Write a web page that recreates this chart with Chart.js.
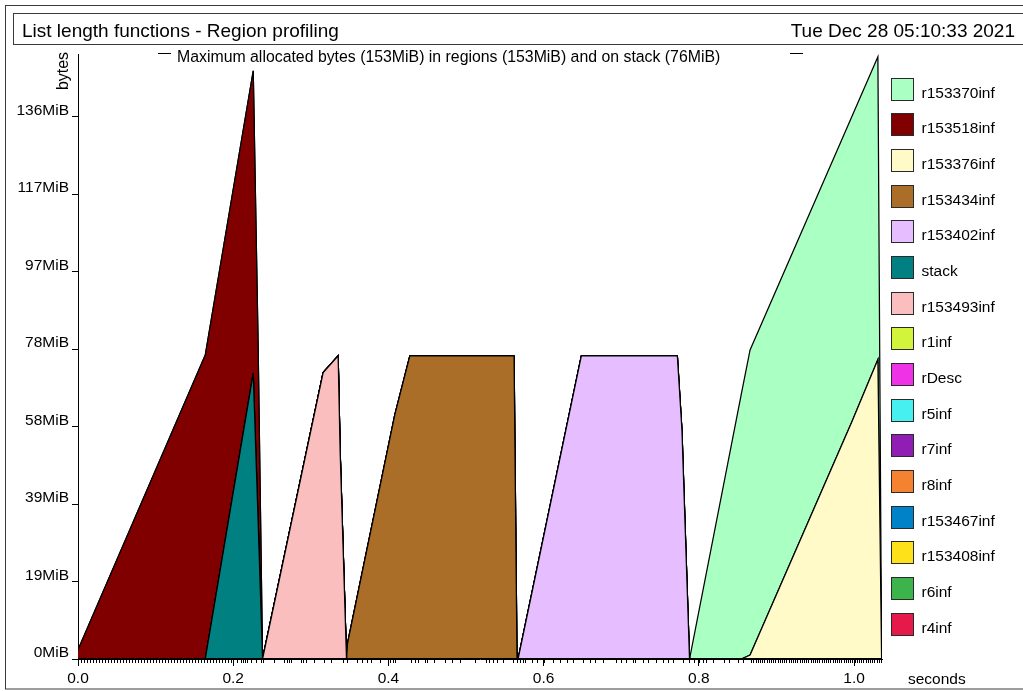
<!DOCTYPE html>
<html>
<head>
<meta charset="utf-8">
<title>List length functions - Region profiling</title>
<script src="https://cdn.jsdelivr.net/npm/chart.js@4/dist/chart.umd.min.js"></script>
<style>
  html, body { margin: 0; padding: 0; background: #fff; overflow: hidden; }
  canvas { display: block; }
</style>
</head>
<body>
<canvas id="profile" width="1023" height="691"></canvas>
<script>
// ---- profile data -------------------------------------------------------
// Sample times (seconds) at which region sizes are given
const seconds = [0.0000, 0.1640, 0.2258, 0.2320, 0.2378, 0.3159, 0.3352, 0.3378,
                 0.3460, 0.3473, 0.4082, 0.4276, 0.5619, 0.5657, 0.5671, 0.6486,
                 0.7723, 0.7782, 0.7880, 0.8547, 0.8660, 0.9972, 1.0307, 1.0355];

// Allocated MiB per region at each sample time
const r153370inf = [0, 0, 0, 0, 0, 0, 0, 0, 0, 0, 0, 0, 0, 0, 0, 0, 0, 0, 0, 66.4, 76.5, 76.5, 75.9, 0];
const r153518inf = [2.3, 76.2, 75.9, 44.8, 0, 0, 0, 0, 0, 0, 0, 0, 0, 0, 0, 0, 0, 0, 0, 0, 0, 0, 0, 0];
const r153376inf = [0, 0, 0, 0, 0, 0, 0, 0, 0, 0, 0, 0, 0, 0, 0, 0, 0, 0, 0, 0, 1.0, 59.5, 75.1, 0];
const r153434inf = [0, 0, 0, 0, 0, 0, 0, 0, 0, 3.9, 61.2, 76.0, 76.0, 0, 0, 0, 0, 0, 0, 0, 0, 0, 0, 0];
const r153402inf = [0, 0, 0, 0, 0, 0, 0, 0, 0, 0, 0, 0, 0, 0, 0, 76.0, 76.0, 57.4, 0, 0, 0, 0, 0, 0];
const stack      = [0, 0, 71.6, 35.2, 0, 0, 0, 0, 0, 0, 0, 0, 0, 0, 0, 0, 0, 0, 0, 0, 0, 0, 0, 0];
const r153493inf = [0, 0, 0, 0, 0, 71.8, 76.0, 52.0, 0, 0, 0, 0, 0, 0, 0, 0, 0, 0, 0, 0, 0, 0, 0, 0];
const r1inf      = [0, 0, 0, 0, 0, 0, 0, 0, 0, 0, 0, 0, 0, 0, 0, 0, 0, 0, 0, 0, 0, 0, 0, 0];
const rDesc      = [0, 0, 0, 0, 0, 0, 0, 0, 0, 0, 0, 0, 0, 0, 0, 0, 0, 0, 0, 0, 0, 0, 0, 0];
const r5inf      = [0, 0, 0, 0, 0, 0, 0, 0, 0, 0, 0, 0, 0, 0, 0, 0, 0, 0, 0, 0, 0, 0, 0, 0];
const r7inf      = [0, 0, 0, 0, 0, 0, 0, 0, 0, 0, 0, 0, 0, 0, 0, 0, 0, 0, 0, 0, 0, 0, 0, 0];
const r8inf      = [0, 0, 0, 0, 0, 0, 0, 0, 0, 0, 0, 0, 0, 0, 0, 0, 0, 0, 0, 0, 0, 0, 0, 0];
const r153467inf = [0, 0, 0, 0, 0, 0, 0, 0, 0, 0, 0, 0, 0, 0, 0, 0, 0, 0, 0, 0, 0, 0, 0, 0];
const r153408inf = [0, 0, 0, 0, 0, 0, 0, 0, 0, 0, 0, 0, 0, 0, 0, 0, 0, 0, 0, 0, 0, 0, 0, 0];
const r6inf      = [0, 0, 0, 0, 0, 0, 0, 0, 0, 0, 0, 0, 0, 0, 0, 0, 0, 0, 0, 0, 0, 0, 0, 0];
const r4inf      = [0, 0, 0, 0, 0, 0, 0, 0, 0, 0, 0, 0, 0, 0, 0, 0, 0, 0, 0, 0, 0, 0, 0, 0];

// Legend order (top of the stack first)
const regionNames = ['r153370inf', 'r153518inf', 'r153376inf', 'r153434inf', 'r153402inf',
                     'stack', 'r153493inf', 'r1inf', 'rDesc', 'r5inf', 'r7inf', 'r8inf',
                     'r153467inf', 'r153408inf', 'r6inf', 'r4inf'];
const regionColors = ['#aaffc3', '#800000', '#fffac8', '#aa6e28', '#e6beff',
                      '#008080', '#fabebe', '#d2f53c', '#f032e6', '#46f0f0', '#911eb4', '#f58231',
                      '#0082c8', '#ffe119', '#3cb44b', '#e6194b'];
const regionSeries = { r153370inf, r153518inf, r153376inf, r153434inf, r153402inf, stack,
                       r153493inf, r1inf, rDesc, r5inf, r7inf, r8inf, r153467inf, r153408inf,
                       r6inf, r4inf };

// Sample instants marked along the time axis
const sampleTimes = [
  0.0000, 0.0039, 0.0077, 0.0116, 0.0155, 0.0193, 0.0232, 0.0271, 0.0309, 0.0348,
  0.0387, 0.0425, 0.0464, 0.0503, 0.0541, 0.0580, 0.0619, 0.0657, 0.0696, 0.0735,
  0.0773, 0.0812, 0.0851, 0.0889, 0.0928, 0.0966, 0.1005, 0.1044, 0.1082, 0.1121,
  0.1160, 0.1198, 0.1237, 0.1276, 0.1314, 0.1353, 0.1392, 0.1430, 0.1469, 0.1508,
  0.1546, 0.1585, 0.1624, 0.1662, 0.1701, 0.1740, 0.1778, 0.1817, 0.1856, 0.1894,
  0.1933, 0.1968, 0.2001, 0.2053, 0.2097, 0.2122, 0.2148, 0.2182, 0.2225, 0.2290,
  0.2354, 0.2388, 0.2526, 0.2655, 0.2689, 0.2719, 0.2741, 0.2870, 0.2903, 0.2934,
  0.3041, 0.3170, 0.3256, 0.3419, 0.3470, 0.3591, 0.3656, 0.3720, 0.3772, 0.3892,
  0.3999, 0.4021, 0.4063, 0.4085, 0.4287, 0.4343, 0.4385, 0.4472, 0.4501, 0.4591,
  0.4729, 0.4816, 0.4923, 0.5116, 0.5254, 0.5300, 0.5352, 0.5403, 0.5473, 0.5610,
  0.5653, 0.5696, 0.5731, 0.5760, 0.5847, 0.5911, 0.6009, 0.6125, 0.6211, 0.6298,
  0.6383, 0.6512, 0.6598, 0.6662, 0.6770, 0.6933, 0.6997, 0.7062, 0.7148, 0.7182,
  0.7277, 0.7342, 0.7448, 0.7535, 0.7599, 0.7664, 0.7793, 0.7878, 0.7942, 0.8003,
  0.8050, 0.8093, 0.8179, 0.8329, 0.8393, 0.8501, 0.8566, 0.8673, 0.8698, 0.8731,
  0.8756, 0.8789, 0.8814, 0.8840, 0.8872, 0.8898, 0.8930, 0.8956, 0.8982, 0.9014,
  0.9040, 0.9072, 0.9098, 0.9124, 0.9156, 0.9182, 0.9214, 0.9240, 0.9265, 0.9298,
  0.9323, 0.9356, 0.9381, 0.9407, 0.9440, 0.9465, 0.9497, 0.9523, 0.9549, 0.9581,
  0.9607, 0.9639, 0.9665, 0.9691, 0.9723, 0.9749, 0.9781, 0.9807, 0.9832, 0.9865,
  0.9890, 0.9923, 0.9948, 0.9974, 1.0006, 1.0032, 1.0064, 1.0090, 1.0116, 1.0148,
  1.0174, 1.0206, 1.0232, 1.0258, 1.0290, 1.0316, 1.0348
];

// Axis ticks
const xTickValues = [0.0, 0.2, 0.4, 0.6, 0.8, 1.0];
const xTickLabels = ['0.0', '0.2', '0.4', '0.6', '0.8', '1.0'];
const yTickValues = [0, 19.43, 38.86, 58.29, 77.71, 97.14, 116.57, 136.0];
const yTickLabels = ['0MiB', '19MiB', '39MiB', '58MiB', '78MiB', '97MiB', '117MiB', '136MiB'];

const titleText = 'List length functions - Region profiling';
const dateText = 'Tue Dec 28 05:10:33 2021';
const summaryText = 'Maximum allocated bytes (153MiB) in regions (153MiB) and on stack (76MiB)';

// ---- chart --------------------------------------------------------------
const FONT = "'Liberation Sans', Arial, Helvetica, sans-serif";
Chart.defaults.font.family = FONT;
Chart.defaults.font.size = 15.5;
Chart.defaults.color = '#000';

// Bottom of the stack first, so each band fills down to the one below it
const stackOrder = regionNames.slice().reverse();
const datasets = stackOrder.map((name, i) => ({
  label: name,
  data: seconds.map((t, k) => ({ x: t, y: regionSeries[name][k] })),
  backgroundColor: regionColors[regionNames.indexOf(name)],
  borderColor: '#000',
  borderWidth: 1.25,
  pointRadius: 0,
  tension: 0,
  fill: i === 0 ? 'origin' : '-1'
}));

// Page frame, header texts, short sample ticks and the region key
const decorations = {
  id: 'decorations',
  afterDraw(chart) {
    const ctx = chart.ctx;
    const xs = chart.scales.x;
    const area = chart.chartArea;
    ctx.save();

    // page frame and header box
    ctx.strokeStyle = '#3a3a3a';
    ctx.lineWidth = 1;
    ctx.strokeRect(5.5, 5.5, 1040, 683.5);
    ctx.strokeRect(13.5, 13.5, 1030, 31);

    ctx.fillStyle = '#000';
    ctx.font = '19px ' + FONT;
    ctx.textBaseline = 'alphabetic';
    ctx.textAlign = 'left';
    ctx.fillText(titleText, 22, 37);
    ctx.textAlign = 'right';
    ctx.fillText(dateText, 1015, 37);

    // summary line with its two short dashes
    ctx.font = '15.85px ' + FONT;
    ctx.textAlign = 'left';
    ctx.fillText(summaryText, 177, 61.5);
    ctx.strokeStyle = '#000';
    ctx.beginPath();
    ctx.moveTo(158, 53.5); ctx.lineTo(171, 53.5);
    ctx.moveTo(790, 53.5); ctx.lineTo(803, 53.5);
    ctx.stroke();

    // axis names
    ctx.font = '15.5px ' + FONT;
    ctx.fillText('seconds', 908, 683.5);
    ctx.save();
    ctx.translate(68, 71);
    ctx.rotate(-Math.PI / 2);
    ctx.textAlign = 'center';
    ctx.font = '16px ' + FONT;
    ctx.fillText('bytes', 0, 0);
    ctx.restore();

    // short marks at every sample instant
    ctx.beginPath();
    sampleTimes.forEach(t => {
      const px = Math.round(xs.getPixelForValue(t)) + 0.5;
      ctx.moveTo(px, area.bottom);
      ctx.lineTo(px, area.bottom + 4);
    });
    ctx.stroke();

    // region key
    ctx.font = '15.5px ' + FONT;
    ctx.textAlign = 'left';
    regionNames.forEach((name, i) => {
      const top = Math.round(77.7 + i * 35.67);
      ctx.fillStyle = regionColors[i];
      ctx.fillRect(891, top, 22.5, 22.5);
      ctx.strokeStyle = '#2a2a2a';
      ctx.strokeRect(891.5, top + 0.5, 22, 22);
      ctx.fillStyle = '#000';
      ctx.fillText(name, 921.5, top + 19.5);
    });
    ctx.restore();
  }
};

new Chart(document.getElementById('profile'), {
  type: 'line',
  data: { datasets },
  options: {
    responsive: false,
    animation: false,
    devicePixelRatio: 1,
    layout: { padding: { left: 0, top: 54, right: 141, bottom: 0 } },
    plugins: {
      legend: { display: false },
      tooltip: { enabled: false },
      filler: { propagate: false }
    },
    elements: { line: { borderJoinStyle: 'miter' } },
    scales: {
      x: {
        type: 'linear',
        min: 0,
        max: 1.036,
        afterFit(scale) { scale.height = 32; },
        afterBuildTicks(scale) { scale.ticks = xTickValues.map(v => ({ value: v })); },
        ticks: {
          autoSkip: false,
          maxRotation: 0,
          padding: 3,
          callback: (v, i) => xTickLabels[i]
        },
        grid: { drawOnChartArea: false, drawTicks: true, tickLength: 7, tickColor: '#000', color: '#000' },
        border: { display: true, color: '#000', width: 1 }
      },
      y: {
        type: 'linear',
        stacked: true,
        min: 0,
        max: 151.7,
        afterFit(scale) { scale.width = 78; },
        afterBuildTicks(scale) { scale.ticks = yTickValues.map(v => ({ value: v })); },
        ticks: {
          autoSkip: false,
          padding: 3,
          labelOffset: -6,
          callback: (v, i) => yTickLabels[i]
        },
        grid: { drawOnChartArea: false, drawTicks: true, tickLength: 6, tickColor: '#000', color: '#000' },
        border: { display: true, color: '#000', width: 1 }
      }
    }
  },
  plugins: [decorations]
});
</script>
</body>
</html>
